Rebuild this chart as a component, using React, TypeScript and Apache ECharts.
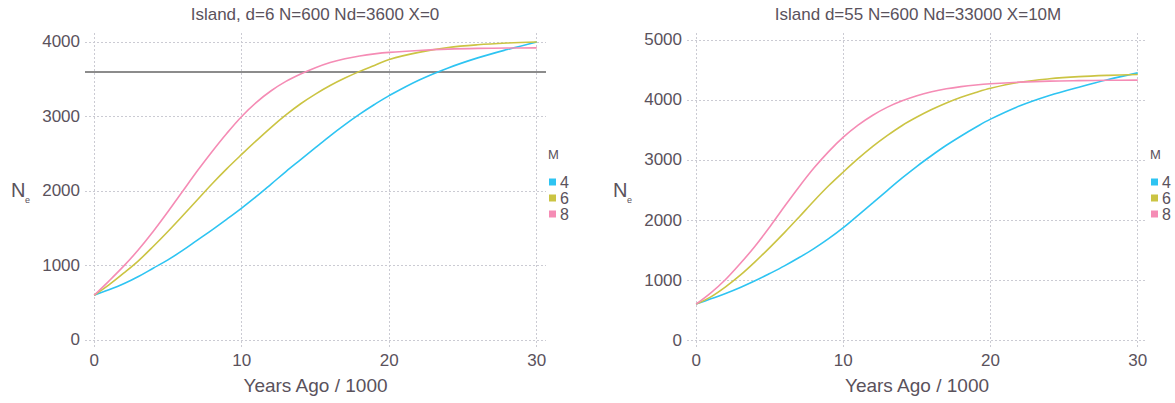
import React, { useEffect, useRef } from "react";
import * as echarts from "echarts";

const X = [0,1,2,3,4,5,6,7,8,9,10,11,12,13,14,15,16,17,18,19,20,22,24,26,28,30];

const leftM4 = [600,672,753,851,963,1075,1201,1340,1478,1622,1770,1926,2092,2260,2420,2580,2740,2890,3030,3160,3280,3486,3651,3786,3898,4000];
const leftM6 = [600,739,896,1062,1254,1456,1667,1882,2097,2300,2490,2675,2854,3020,3170,3300,3415,3515,3605,3685,3765,3860,3925,3962,3985,4000];
const leftM8 = [600,790,990,1210,1455,1720,1995,2270,2530,2775,3000,3190,3345,3470,3570,3655,3725,3775,3812,3840,3860,3885,3903,3913,3918,3920];

const rightM4 = [600,687,776,876,987,1109,1236,1375,1524,1690,1874,2079,2284,2494,2700,2895,3075,3245,3400,3545,3680,3902,4074,4213,4340,4451];
const rightM6 = [600,720,887,1081,1303,1541,1790,2051,2317,2570,2800,3021,3226,3409,3575,3715,3840,3950,4045,4125,4195,4295,4352,4388,4410,4425];
const rightM8 = [600,787,1009,1275,1563,1885,2225,2555,2865,3140,3380,3580,3745,3880,3985,4070,4135,4185,4222,4250,4270,4297,4314,4322,4327,4330];

const mLabels = ["4", "6", "8"];
const xTicks = [0, 10, 20, 30];
const leftYTicks = [0, 1000, 2000, 3000, 4000];
const rightYTicks = [0, 1000, 2000, 3000, 4000, 5000];
const refLine = 3600;

const titles = ["Island, d=6 N=600 Nd=3600 X=0", "Island d=55 N=600 Nd=33000 X=10M"];
const xName = "Years Ago / 1000";

const COLORS = ["#2ec4f2", "#cbc443", "#f58cb5"];
const TXT = "#5a525c";
const GRIDC = "#cbcbd3";
const FONT = "Liberation Sans, Arial, Helvetica, sans-serif";

const pairs = (ys: number[]) => X.map((x, i) => [x, ys[i]]);

export default function App() {
  const ref = useRef<HTMLDivElement>(null);
  useEffect(() => {
    if (!ref.current) return;
    const chart = echarts.init(ref.current, null, { renderer: "svg" });
    const grids = [
      { left: 85, top: 33, width: 461, height: 314 },
      { left: 687, top: 33, width: 460, height: 314 },
    ];
    const mkX = (i: number) => ({
      gridIndex: i,
      type: "value",
      min: -0.62,
      max: 30.63,
      axisLine: { show: false },
      axisTick: { show: false, customValues: xTicks },
      axisLabel: { customValues: xTicks, color: TXT, fontSize: 17, fontFamily: FONT, margin: 5, formatter: (v: number) => String(v) },
      splitLine: { show: true, lineStyle: { color: GRIDC, type: [2, 2], width: 1 } },
      name: xName,
      nameLocation: "middle",
      nameGap: 29,
      nameTextStyle: { color: TXT, fontSize: 19, fontFamily: FONT },
    });
    const mkY = (i: number, min: number, max: number, ticks: number[]) => ({
      gridIndex: i,
      type: "value",
      min,
      max,
      axisLine: { show: false },
      axisTick: { show: false, customValues: ticks },
      axisLabel: { customValues: ticks, color: TXT, fontSize: 17, fontFamily: FONT, margin: 5, formatter: (v: number) => String(v) },
      splitLine: { show: true, lineStyle: { color: GRIDC, type: [2, 2], width: 1 } },
    });
    const datasets = [
      [leftM4, leftM6, leftM8],
      [rightM4, rightM6, rightM8],
    ];
    const series: any[] = [];
    datasets.forEach((set, gi) => {
      set.forEach((ys, si) => {
        const s: any = {
          type: "line",
          name: mLabels[si],
          xAxisIndex: gi,
          yAxisIndex: gi,
          data: pairs(ys),
          smooth: 0.35,
          showSymbol: false,
          symbol: "none",
          color: COLORS[si],
          lineStyle: { width: 1.6, color: COLORS[si] },
          z: 3,
        };
        if (gi === 0 && si === 0) {
          s.markLine = {
            silent: true,
            symbol: "none",
            label: { show: false },
            lineStyle: { color: "#8c8c8c", width: 2, type: "solid" },
            data: [{ yAxis: refLine }],
            z: 2,
          };
        }
        series.push(s);
      });
    });
    const mkLegend = (left: number) => ({
      left,
      top: 174,
      orient: "vertical",
      padding: 0,
      itemGap: 0,
      itemWidth: 7,
      itemHeight: 7,
      icon: "rect",
      selectedMode: false,
      data: mLabels,
      textStyle: { color: TXT, fontSize: 16, lineHeight: 16, fontFamily: FONT, padding: [0, 0, 0, -1] },
    });
    const neLabel = (x: number) => [
      { type: "text", x, y: 190, style: { text: "N", fontSize: 20, fontFamily: FONT, fill: TXT, textVerticalAlign: "middle" } },
      { type: "text", x: x + 14, y: 200, style: { text: "e", fontSize: 9, fontFamily: FONT, fill: TXT, textVerticalAlign: "middle" } },
    ];
    chart.setOption({
      animation: false,
      backgroundColor: "#ffffff",
      grid: grids,
      xAxis: [mkX(0), mkX(1)],
      yAxis: [mkY(0, -95, 4120, leftYTicks), mkY(1, -115, 5115, rightYTicks)],
      legend: [mkLegend(549), mkLegend(1151)],
      series,
      graphic: [
        { type: "text", x: 315, y: 14, style: { text: titles[0], fontSize: 17, fontFamily: FONT, fill: TXT, textAlign: "center", textVerticalAlign: "middle" } },
        { type: "text", x: 918, y: 14, style: { text: titles[1], fontSize: 17, fontFamily: FONT, fill: TXT, textAlign: "center", textVerticalAlign: "middle" } },
        { type: "text", x: 548, y: 154, style: { text: "M", fontSize: 13, fontFamily: FONT, fill: TXT, textVerticalAlign: "middle" } },
        { type: "text", x: 1150, y: 154, style: { text: "M", fontSize: 13, fontFamily: FONT, fill: TXT, textVerticalAlign: "middle" } },
        ...neLabel(11),
        ...neLabel(613),
      ],
    });
    return () => chart.dispose();
  }, []);
  return (
    <div
      ref={ref}
      style={{ position: "absolute", left: 0, top: 0, width: 1175, height: 403, background: "#fff" }}
    />
  );
}
